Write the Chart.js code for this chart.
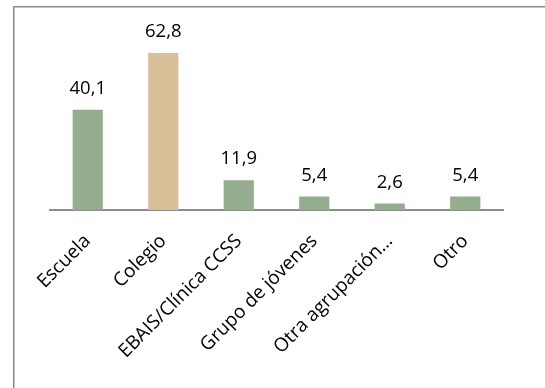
<!DOCTYPE html>
<html>
<head>
<meta charset="utf-8">
<script src="https://cdn.jsdelivr.net/npm/chart.js@4/dist/chart.umd.min.js"></script>
<style>
html,body{margin:0;padding:0;background:#fff;}
#wrap{position:relative;width:545px;height:388px;}
</style>
</head>
<body>
<div id="wrap"><canvas id="c" width="545" height="388"></canvas></div>
<script>
const categories = ["Escuela", "Colegio", "EBAIS/Clínica CCSS", "Grupo de jóvenes", "Otra agrupación…", "Otro"];
const values = [40.1, 62.8, 11.9, 5.4, 2.6, 5.4];
const barColors = ["#94AD8E", "#D9BF98", "#94AD8E", "#94AD8E", "#94AD8E", "#94AD8E"];
const valueLabels = ["40,1", "62,8", "11,9", "5,4", "2,6", "5,4"];

const FONT = "'Open Sans', 'DejaVu Sans', sans-serif";

const frame = {
  id: 'frame',
  beforeDraw(chart) {
    const ctx = chart.ctx;
    ctx.save();
    ctx.fillStyle = '#fff';
    ctx.fillRect(0, 0, chart.width, chart.height);
    ctx.fillStyle = '#8a8a8a';
    ctx.fillRect(13, 6, 1.5, chart.height - 6);
    ctx.fillRect(13, 6, chart.width - 13, 1.5);
    ctx.restore();
  }
};

const dataLabels = {
  id: 'dataLabels',
  afterDatasetsDraw(chart) {
    const ctx = chart.ctx;
    const meta = chart.getDatasetMeta(0);
    ctx.save();
    ctx.fillStyle = '#000';
    ctx.font = "18.5px " + FONT;
    ctx.textAlign = 'center';
    ctx.textBaseline = 'alphabetic';
    meta.data.forEach((bar, i) => {
      ctx.fillText(valueLabels[i], bar.x, bar.y - 16);
    });
    ctx.restore();
  }
};

new Chart(document.getElementById('c'), {
  type: 'bar',
  data: {
    labels: categories,
    datasets: [{
      data: values,
      backgroundColor: barColors,
      borderWidth: 0,
      barPercentage: 0.8,
      categoryPercentage: 0.5
    }]
  },
  options: {
    responsive: false,
    animation: false,
    layout: { padding: { left: 50, right: 42, top: 35, bottom: 0 } },
    plugins: { legend: { display: false }, tooltip: { enabled: false } },
    scales: {
      y: { display: false, min: 0, max: 70 },
      x: {
        grid: { display: false, drawTicks: false },
        border: { display: true, color: '#8c8c8c', width: 2 },
        ticks: {
          color: '#000',
          font: { family: FONT, size: 19 },
          maxRotation: 45,
          minRotation: 45,
          autoSkip: false,
          padding: 20
        },
        afterFit(scale) {
          scale.height = 178;
          scale.paddingLeft = 0;
          scale.paddingRight = 0;
        }
      }
    }
  },
  plugins: [frame, dataLabels]
});
</script>
</body>
</html>
